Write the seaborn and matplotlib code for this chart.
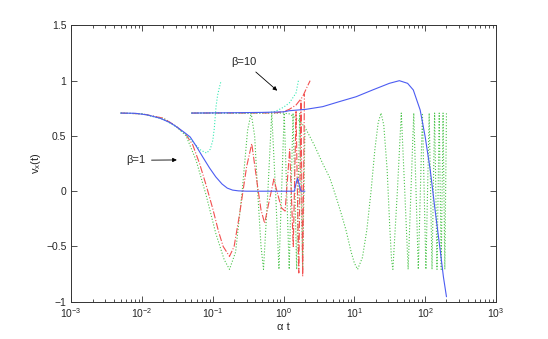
import matplotlib
matplotlib.use('Agg')
import matplotlib.pyplot as plt
import matplotlib.ticker as mticker
import seaborn as sns

# beta = 1 curves
t_blue1 = [0.005, 0.008, 0.012, 0.018, 0.025, 0.032, 0.04, 0.048, 0.058, 0.072, 0.09, 0.11,
           0.135, 0.16, 0.19, 0.23, 0.3, 0.6, 1.0, 1.42, 1.5, 1.58, 1.66, 1.76, 2.0]
v_blue1 = [0.707, 0.705, 0.69, 0.66, 0.62, 0.575, 0.53, 0.49, 0.41, 0.31, 0.21, 0.13,
           0.065, 0.028, 0.01, 0.003, 0.0, 0.0, 0.0, 0.0, 0.07, 0.117, 0.06, 0.0, 0.0]

t_cyan1 = [0.005, 0.01, 0.02, 0.03, 0.042, 0.055, 0.068, 0.082, 0.092, 0.1, 0.105, 0.111,
           0.117, 0.124, 0.131]
v_cyan1 = [0.707, 0.70, 0.65, 0.585, 0.51, 0.43, 0.37, 0.345, 0.38, 0.46, 0.57, 0.765,
           0.87, 0.94, 1.0]

t_red1 = [0.005, 0.01, 0.02, 0.03, 0.042, 0.052, 0.065, 0.08, 0.1, 0.12, 0.14, 0.172, 0.2,
          0.24, 0.3, 0.355, 0.43, 0.48, 0.54, 0.63, 0.73, 0.82, 0.93, 1.05, 1.22, 1.37,
          1.5, 1.64, 1.76, 1.86, 1.97]
v_red1 = [0.707, 0.70, 0.66, 0.59, 0.51, 0.42, 0.25, 0.06, -0.16, -0.36, -0.5, -0.59, -0.5,
          -0.2, 0.22, 0.43, 0.04, -0.17, -0.29, -0.08, 0.11, -0.02, -0.15, -0.18, 0.38, -0.5,
          0.72, -0.74, 0.82, -0.77, 0.88]

t_green1 = [0.005, 0.01, 0.02, 0.03, 0.042, 0.058, 0.08, 0.11, 0.145, 0.172, 0.21, 0.26,
            0.31, 0.348, 0.39, 0.43, 0.48, 0.52, 0.6, 0.68, 0.77, 0.86, 1.02, 1.2, 1.36,
            1.53, 1.69, 1.86, 2.0]
v_green1 = [0.707, 0.70, 0.66, 0.59, 0.50, 0.28, -0.03, -0.38, -0.62, -0.707, -0.55, 0.0,
            0.55, 0.707, 0.5, 0.0, -0.5, -0.707, 0.0, 0.707, 0.0, -0.707, 0.707, -0.707,
            0.707, -0.707, 0.707, -0.707, 0.55]

# beta = 10 curves
t_blue10 = [0.05, 0.2, 0.5, 1.0, 1.2, 2.08, 3.57, 6.1, 10.6, 18.1, 31.2, 43.2, 56.5, 68,
            85, 100, 118, 138, 163, 181, 200]
v_blue10 = [0.707, 0.71, 0.713, 0.718, 0.728, 0.741, 0.765, 0.81, 0.855, 0.916, 0.976, 1.0,
            0.976, 0.916, 0.735, 0.493, 0.192, -0.17, -0.532, -0.774, -0.955]

t_cyan10 = [0.05, 0.1, 0.2, 0.4, 0.6, 0.75, 0.87, 1.0, 1.21, 1.4, 1.5, 1.62]
v_cyan10 = [0.707, 0.707, 0.707, 0.707, 0.71, 0.72, 0.74, 0.76, 0.80, 0.86, 0.89, 1.0]

t_red10 = [0.05, 0.2, 0.5, 0.8, 1.0, 1.2, 1.5, 1.86, 2.1, 2.37]
v_red10 = [0.707, 0.707, 0.707, 0.71, 0.72, 0.74, 0.78, 0.855, 0.93, 1.0]

t_green10 = [0.05, 0.2, 0.5, 1.0, 1.2, 1.6, 2.0, 2.7, 3.57, 4.5, 5.5, 6.5, 7.6, 9.0, 10.0,
             11.1, 13.0, 15.0, 17.2, 19.5, 21.7, 23.8, 26.0, 29.0, 31.5, 33.5, 35.0, 40.5,
             46.0, 51.5, 57.5, 69.0, 80.0, 91.5, 102.5, 114.0, 125.0, 136.0, 147.0, 158.0,
             168.5, 179.0, 189.5, 200.0]
v_green10 = [0.707, 0.707, 0.707, 0.707, 0.70, 0.65, 0.58, 0.42, 0.25, 0.12, -0.05, -0.2,
             -0.35, -0.55, -0.65, -0.707, -0.6, -0.35, 0.0, 0.38, 0.62, 0.707, 0.6, 0.2,
             -0.3, -0.62, -0.707, 0.0, 0.707, 0.0, -0.707, 0.707, -0.707, 0.707, -0.707,
             0.707, -0.707, 0.707, -0.707, 0.707, -0.707, 0.707, -0.707, 0.707]

yticks = [-1, -0.5, 0, 0.5, 1, 1.5]
ytick_labels = ['\u22121', '\u22120.5', '0', '0.5', '1', '1.5']

sns.set_style('ticks')
plt.rcParams['font.family'] = ['Liberation Sans', 'DejaVu Sans']
plt.rcParams['mathtext.fontset'] = 'custom'
plt.rcParams['mathtext.rm'] = 'Liberation Sans'
plt.rcParams['mathtext.it'] = 'Liberation Sans'
plt.rcParams['font.size'] = 7.5

fig = plt.figure(figsize=(5.48, 3.39), dpi=100)
ax = fig.add_axes([0.13, 0.11, 0.775, 0.815])

blue = '#4c5cf2'
green = '#4cc44c'
red = '#f25050'
cyan = '#38eab4'
lw = 0.8

curves = [
    (t_green1, v_green1, green, ':'),
    (t_green10, v_green10, green, ':'),
    (t_red1, v_red1, red, '-.'),
    (t_red10, v_red10, red, '-.'),
    (t_cyan1, v_cyan1, cyan, ':'),
    (t_cyan10, v_cyan10, cyan, ':'),
    (t_blue1, v_blue1, blue, '-'),
    (t_blue10, v_blue10, blue, '-'),
]
for t, v, c, ls in curves:
    sns.lineplot(x=t, y=v, ax=ax, color=c, linestyle=ls, linewidth=lw,
                 sort=False, estimator=None)

ax.set_xscale('log')
ax.set_xlim(1e-3, 1e3)
ax.set_ylim(-1, 1.5)
ax.xaxis.set_minor_formatter(mticker.NullFormatter())
ax.set_yticks(yticks)
ax.set_yticklabels(ytick_labels)
ax.tick_params(direction='in', top=True, right=True, which='both', labelsize=7.5,
               color='#333333', width=0.6)
ax.tick_params(which='major', length=4)
ax.tick_params(which='minor', length=2)
for sp in ax.spines.values():
    sp.set_linewidth(0.7)
    sp.set_color('#333333')

ax.set_xlabel('\u03b1 t', fontsize=8, labelpad=1)
ax.set_ylabel('v$_x$(t)', fontsize=8, labelpad=2)

arrow = dict(arrowstyle='-|>', color='black', lw=0.6, mutation_scale=6)
ax.annotate('\u03b2=10', xy=(0.87, 0.893), xytext=(0.278, 1.17),
            ha='center', va='center', fontsize=8, arrowprops=arrow)
ax.annotate('\u03b2=1', xy=(0.034, 0.283), xytext=(0.0082, 0.28),
            ha='center', va='center', fontsize=8, arrowprops=arrow)

fig.savefig('out.png', dpi=100)
